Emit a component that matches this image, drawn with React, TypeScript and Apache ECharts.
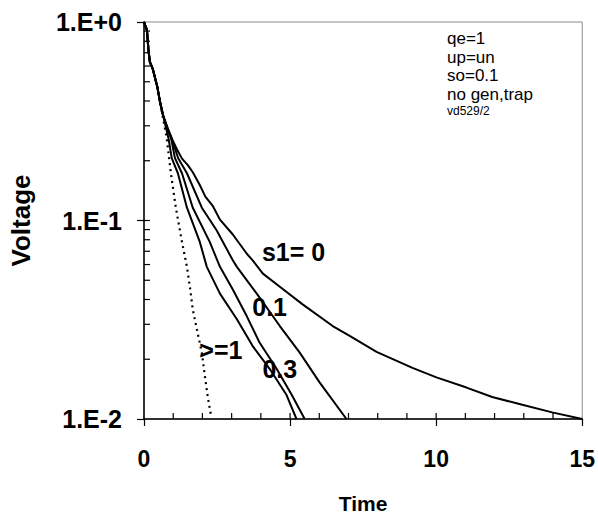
import React, { useEffect, useRef } from "react";
import * as echarts from "echarts";

const FONT = '"Liberation Sans", Arial, sans-serif';

// s1 = 0
const tS0 = [0, 0.1, 0.15, 0.2, 0.3, 0.45, 0.55, 0.65, 0.82, 1.0, 1.15, 1.3, 1.5, 1.67, 1.91, 2.1, 2.36, 2.6, 3.04, 3.52, 3.72, 4.07, 4.65, 5.43, 6.46, 7.04, 7.96, 9.19, 10.01, 11.04, 11.92, 12.85, 13.97, 15.0];
const vS0 = [1, 0.91, 0.73, 0.63, 0.58, 0.475, 0.395, 0.34, 0.29, 0.25, 0.225, 0.205, 0.19, 0.175, 0.151, 0.132, 0.118, 0.101, 0.085, 0.068, 0.063, 0.054, 0.0464, 0.0378, 0.0294, 0.0262, 0.0218, 0.0181, 0.0162, 0.0144, 0.0129, 0.0119, 0.0108, 0.01];

// s1 = 0.1
const tS01 = [0, 0.1, 0.15, 0.2, 0.3, 0.45, 0.55, 0.65, 0.8, 1.0, 1.17, 1.47, 1.98, 2.49, 3.04, 3.18, 3.86, 4.65, 5.33, 6.01, 6.93];
const vS01 = [1, 0.91, 0.73, 0.63, 0.58, 0.475, 0.395, 0.34, 0.29, 0.245, 0.206, 0.173, 0.116, 0.089, 0.063, 0.0584, 0.0428, 0.0294, 0.0216, 0.0153, 0.01];

// s1 = 0.3
const tS03 = [0, 0.1, 0.15, 0.2, 0.3, 0.45, 0.55, 0.65, 0.8, 0.93, 1.06, 1.3, 1.67, 2.25, 2.6, 3.04, 3.52, 3.96, 4.54, 5.06, 5.5];
const vS03 = [1, 0.91, 0.73, 0.63, 0.58, 0.475, 0.395, 0.34, 0.29, 0.259, 0.206, 0.173, 0.116, 0.078, 0.0584, 0.0449, 0.0329, 0.0242, 0.0179, 0.0132, 0.01];

// fourth solid curve (unlabelled)
const tS4 = [0, 0.1, 0.15, 0.2, 0.3, 0.45, 0.55, 0.65, 0.84, 0.95, 1.16, 1.47, 1.91, 2.15, 2.6, 3.18, 3.72, 4.3, 4.88, 5.22];
const vS4 = [1, 0.91, 0.73, 0.63, 0.58, 0.475, 0.395, 0.34, 0.259, 0.206, 0.173, 0.116, 0.078, 0.0584, 0.0428, 0.0318, 0.0233, 0.0179, 0.0132, 0.01];

// s1 >= 1 (dotted)
const tS1 = [0, 0.1, 0.15, 0.2, 0.3, 0.45, 0.55, 0.78, 0.92, 1.09, 1.3, 1.47, 1.57, 1.67, 1.81, 1.98, 2.08, 2.19, 2.29];
const vS1 = [1, 0.91, 0.73, 0.63, 0.58, 0.475, 0.395, 0.259, 0.173, 0.116, 0.078, 0.0584, 0.0464, 0.0356, 0.0283, 0.0216, 0.0166, 0.0127, 0.0105];

// inside ticks (minor + inner half of major)
const yInsideTicks = [0.02, 0.03, 0.04, 0.05, 0.06, 0.07, 0.08, 0.09, 0.1, 0.2, 0.3, 0.4, 0.5, 0.6, 0.7, 0.8, 0.9];
const xInsideTicks = [1, 2, 3, 4, 5, 6, 7, 8, 9, 10, 11, 12, 13, 14];

// curve labels (text, time, voltage)
const annText = ["s1= 0", "0.1", "0.3", ">=1"];
const annT = [5.12, 4.3, 4.65, 2.63];
const annV = [0.0693, 0.0365, 0.0179, 0.0223];

// info block
const infoLines = ["qe=1", "up=un", "so=0.1", "no gen,trap"];
const infoSmall = "vd529/2";

const zip = (t: number[], v: number[]) => t.map((x, i) => [x, v[i]]);

export default function App() {
  const ref = useRef<HTMLDivElement>(null);
  useEffect(() => {
    document.body.style.margin = "0";
    const chart = echarts.init(ref.current!, null, { renderer: "svg" });
    const black = "#000";
    const solid = (name: string, t: number[], v: number[]) => ({
      name,
      type: "line",
      data: zip(t, v),
      showSymbol: false,
      symbol: "none",
      lineStyle: { color: black, width: 2 },
      z: 3,
    });
    const infoY = [38, 57, 75.5, 94];
    const option: any = {
      animation: false,
      backgroundColor: "#fff",
      textStyle: { fontFamily: FONT },
      grid: { left: 144, right: 15, top: 22, bottom: 95, show: true, borderColor: "#8c8c8c", borderWidth: 1, backgroundColor: "transparent" },
      xAxis: {
        type: "value", min: 0, max: 15, interval: 5, position: "bottom",
        axisLine: { show: true, onZero: false, lineStyle: { color: black, width: 1.5 } },
        axisTick: { show: true, inside: false, length: 7, lineStyle: { color: black, width: 1.2 } },
        axisLabel: { fontSize: 23, fontWeight: "bold", color: black, margin: 28, fontFamily: FONT },
        splitLine: { show: false },
        name: "Time", nameLocation: "middle", nameGap: 74,
        nameTextStyle: { fontSize: 21, fontWeight: "bold", color: black, fontFamily: FONT },
      },
      yAxis: {
        type: "log", logBase: 10, min: 0.01, max: 1, position: "left",
        axisLine: { show: true, onZero: false, lineStyle: { color: black, width: 1.5 } },
        axisTick: { show: true, inside: false, length: 7, lineStyle: { color: black, width: 1.2 } },
        axisLabel: {
          fontSize: 25, fontWeight: "bold", color: black, margin: 22, fontFamily: FONT,
          formatter: (v: number) => {
            const e = Math.round(Math.log10(v));
            return "1.E" + (e >= 0 ? "+" : "") + e;
          },
        },
        splitLine: { show: false },
        name: "Voltage", nameLocation: "middle", nameRotate: 90, nameGap: 110,
        nameTextStyle: { fontSize: 26, fontWeight: "bold", color: black, fontFamily: FONT },
      },
      series: [
        solid("s1= 0", tS0, vS0),
        solid("0.1", tS01, vS01),
        solid("0.3", tS03, vS03),
        solid("unlabelled", tS4, vS4),
        {
          name: ">=1", type: "line", data: zip(tS1, vS1), showSymbol: false, symbol: "none",
          lineStyle: { color: black, width: 2.2, type: [2, 4] }, z: 3,
        },
        {
          type: "custom", silent: true, clip: false,
          data: yInsideTicks.map((v) => [0, v]),
          renderItem: (params: any, api: any) => {
            const p = api.coord([api.value(0), api.value(1)]);
            return { type: "line", shape: { x1: p[0], y1: p[1], x2: p[0] + 6, y2: p[1] }, style: { stroke: black, lineWidth: 1.2 } };
          },
        },
        {
          type: "custom", silent: true, clip: false,
          data: xInsideTicks.map((t) => [t, 0.01]),
          renderItem: (params: any, api: any) => {
            const p = api.coord([api.value(0), api.value(1)]);
            return { type: "line", shape: { x1: p[0], y1: p[1], x2: p[0], y2: p[1] - 6 }, style: { stroke: black, lineWidth: 1.2 } };
          },
        },
        {
          type: "scatter", symbolSize: 1, silent: true,
          itemStyle: { color: "rgba(0,0,0,0)", opacity: 1 },
          data: annText.map((s, i) => ({ name: s, value: [annT[i], annV[i]] })),
          label: { show: true, position: "inside", formatter: "{b}", fontSize: 25, fontWeight: "bold", color: black, opacity: 1, textBorderWidth: 0, fontFamily: FONT },
          z: 5,
        },
      ],
      graphic: [
        ...infoLines.map((s, i) => ({
          type: "text", x: 447, y: infoY[i],
          style: { text: s, font: `17px ${FONT}`, fill: black, align: "left", verticalAlign: "middle" },
        })),
        {
          type: "text", x: 447, y: 110.5,
          style: { text: infoSmall, font: `12px ${FONT}`, fill: black, align: "left", verticalAlign: "middle" },
        },
      ],
    };
    chart.setOption(option);
    return () => chart.dispose();
  }, []);
  return <div ref={ref} style={{ width: 598, height: 519, position: "absolute", left: 0, top: 0 }} />;
}
